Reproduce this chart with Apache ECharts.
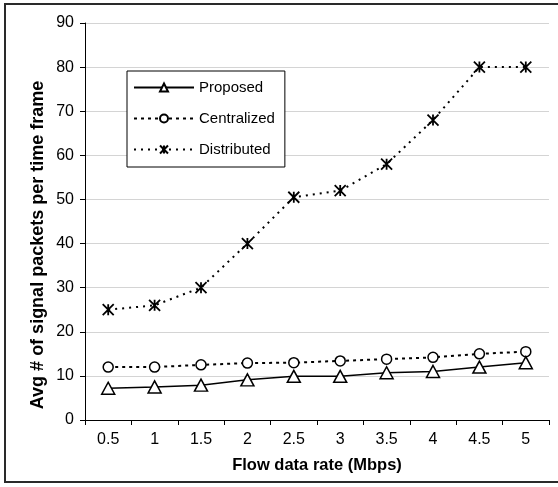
<!DOCTYPE html>
<html>
<head>
<meta charset="utf-8">
<script src="https://cdn.jsdelivr.net/npm/echarts@6/dist/echarts.min.js"></script>
<style>
  html, body { margin: 0; padding: 0; background: #fff; }
  #chart { width: 558px; height: 487px; }
</style>
</head>
<body>
<div id="chart"></div>
<script>
// Flow data rate categories (Mbps)
var categories = ['0.5', '1', '1.5', '2', '2.5', '3', '3.5', '4', '4.5', '5'];

// Average number of signal packets per time frame
var proposed    = [7.2, 7.5, 7.9, 9.1, 9.9, 9.9, 10.7, 11, 12, 13];
var centralized = [12, 12, 12.5, 12.9, 13, 13.4, 13.8, 14.2, 15, 15.5];
var distributed = [25, 26, 30, 40, 50.5, 52, 58, 68, 80, 80];

var seriesNames = ['Proposed', 'Centralized', 'Distributed'];
var yTicks = { min: 0, max: 90, interval: 10 };

var FONT = '"Liberation Sans", Arial, sans-serif';
// asterisk marker: an X crossed by a vertical stroke
var asterisk = 'path://M0,0L10,10M10,0L0,10M5,0L5,10';

var chart = echarts.init(document.getElementById('chart'), null, { renderer: 'canvas' });

chart.setOption({
  backgroundColor: '#fff',
  animation: false,
  textStyle: { fontFamily: FONT, color: '#000' },
  grid: { left: 85, right: 9, top: 23, bottom: 67, containLabel: false },
  legend: {
    orient: 'vertical',
    left: 127,
    top: 71,
    width: 140,
    padding: [9, 10, 10, 6],
    itemGap: 16,
    itemWidth: 60,
    itemHeight: 10,
    backgroundColor: '#fff',
    borderColor: '#000',
    borderWidth: 1,
    textStyle: { fontFamily: FONT, fontSize: 15, color: '#000' },
    data: seriesNames
  },
  xAxis: {
    type: 'category',
    data: categories,
    boundaryGap: true,
    axisLine: { lineStyle: { color: '#000', width: 1 } },
    axisTick: { show: true, length: 5, lineStyle: { color: '#000' } },
    axisLabel: { fontFamily: FONT, fontSize: 16, color: '#000', margin: 12 },
    splitLine: { show: false }
  },
  yAxis: {
    type: 'value',
    min: yTicks.min,
    max: yTicks.max,
    interval: yTicks.interval,
    axisLine: { show: true, lineStyle: { color: '#000', width: 1 } },
    axisTick: { show: true, length: 5, lineStyle: { color: '#000' } },
    axisLabel: { fontFamily: FONT, fontSize: 16, color: '#000', margin: 11 },
    splitLine: { show: true, lineStyle: { color: '#d4d4d4', width: 1 } }
  },
  graphic: [
    {
      type: 'rect',
      silent: true,
      shape: { x: 5, y: 4, width: 570, height: 478 },
      style: { fill: 'none', stroke: '#2a2a2a', lineWidth: 2 },
      z: 100
    },
    {
      type: 'text',
      silent: true,
      x: 38,
      y: 245,
      rotation: Math.PI / 2,
      style: {
        text: 'Avg # of signal packets per time frame',
        font: 'bold 18px ' + FONT,
        fill: '#000',
        align: 'center',
        verticalAlign: 'middle'
      }
    },
    {
      type: 'text',
      silent: true,
      x: 317,
      y: 465,
      style: {
        text: 'Flow data rate (Mbps)',
        font: 'bold 16.5px ' + FONT,
        fill: '#000',
        align: 'center',
        verticalAlign: 'middle'
      }
    }
  ],
  series: [
    {
      name: 'Proposed',
      type: 'line',
      data: proposed,
      symbol: 'triangle',
      symbolSize: [13, 12],
      showAllSymbol: true,
      lineStyle: { color: '#000', width: 1.5, type: 'solid' },
      itemStyle: { color: '#fff', borderColor: '#000', borderWidth: 1.5 },
      z: 3
    },
    {
      name: 'Centralized',
      type: 'line',
      data: centralized,
      symbol: 'circle',
      symbolSize: 10,
      showAllSymbol: true,
      lineStyle: { color: '#000', width: 2, type: [3, 4] },
      itemStyle: { color: '#fff', borderColor: '#000', borderWidth: 1.5 },
      z: 2
    },
    {
      name: 'Distributed',
      type: 'line',
      data: distributed,
      symbol: asterisk,
      symbolSize: 11,
      showAllSymbol: true,
      lineStyle: { color: '#000', width: 2, type: [2, 5] },
      itemStyle: { color: '#000', borderColor: '#000', borderWidth: 1.8 },
      z: 2
    }
  ]
});
</script>
</body>
</html>
